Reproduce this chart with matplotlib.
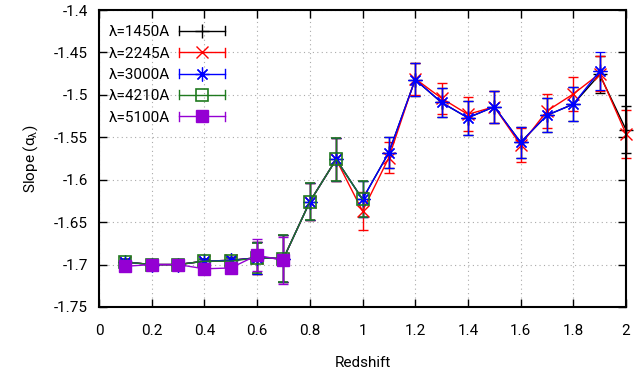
import numpy as np
import matplotlib
matplotlib.use("Agg")
import matplotlib.pyplot as plt
from matplotlib.lines import Line2D
from matplotlib.legend_handler import HandlerBase

plt.rcParams['font.family'] = ['Roboto', 'DejaVu Sans']
plt.rcParams['mathtext.default'] = 'regular'

redshift = [0.1, 0.2, 0.3, 0.4, 0.5, 0.6, 0.7, 0.8, 0.9, 1.0,
            1.1, 1.2, 1.3, 1.4, 1.5, 1.6, 1.7, 1.8, 1.9, 2.0]

labels = ["λ=1450A", "λ=2245A", "λ=3000A", "λ=4210A", "λ=5100A"]

slope_1450 = [-1.697, -1.700, -1.700, -1.696, -1.695, -1.692, -1.693, -1.626, -1.576, -1.623,
              -1.568, -1.482, -1.509, -1.527, -1.514, -1.556, -1.524, -1.511, -1.476, -1.541]
err_1450 = [0.004, 0.003, 0.003, 0.003, 0.004, 0.019, 0.028, 0.022, 0.025, 0.021,
            0.018, 0.019, 0.017, 0.020, 0.019, 0.018, 0.020, 0.020, 0.022, 0.028]

slope_2245 = [-1.697, -1.700, -1.700, -1.696, -1.695, -1.692, -1.693, -1.626, -1.576, -1.637,
              -1.574, -1.481, -1.504, -1.523, -1.514, -1.559, -1.519, -1.499, -1.475, -1.546]
err_2245 = [0.004, 0.003, 0.003, 0.003, 0.004, 0.019, 0.028, 0.022, 0.025, 0.022,
            0.018, 0.019, 0.018, 0.020, 0.019, 0.020, 0.020, 0.020, 0.021, 0.028]

slope_3000 = [-1.697, -1.700, -1.700, -1.696, -1.695, -1.692, -1.693, -1.626, -1.576, -1.623,
              -1.568, -1.482, -1.509, -1.527, -1.514, -1.556, -1.524, -1.511, -1.472]
err_3000 = [0.004, 0.003, 0.003, 0.003, 0.004, 0.019, 0.028, 0.022, 0.025, 0.021,
            0.018, 0.019, 0.017, 0.020, 0.019, 0.018, 0.020, 0.020, 0.022]

slope_4210 = [-1.697, -1.700, -1.700, -1.696, -1.696, -1.692, -1.693, -1.626, -1.576, -1.623]
err_4210 = [0.004, 0.003, 0.003, 0.003, 0.004, 0.018, 0.028, 0.022, 0.025, 0.021]

slope_5100 = [-1.702, -1.700, -1.700, -1.705, -1.704, -1.689, -1.695]
err_5100 = [0.003, 0.003, 0.003, 0.003, 0.003, 0.019, 0.028]

series = [
    (slope_1450, err_1450, 'black', '+', 10, 'black', 1.0),
    (slope_2245, err_2245, '#ff0000', 'x', 9, '#ff0000', 1.0),
    (slope_3000, err_3000, '#0000ff', (8, 2, 0), 10, '#0000ff', 0.9),
    (slope_4210, err_4210, '#1f7a1f', 's', 8, 'none', 1.2),
    (slope_5100, err_5100, '#9400d3', 's', 9, '#9400d3', 1.0),
]


class HandlerHErr(HandlerBase):
    def create_artists(self, legend, orig_handle, xdescent, ydescent,
                       width, height, fontsize, trans):
        col = orig_handle.get_color()
        y = height / 2.0 - ydescent
        x0 = -xdescent
        x1 = width - xdescent
        c = 0.3 * fontsize
        artists = [
            Line2D([x0, x1], [y, y], color=col, lw=1.0),
            Line2D([x0, x0], [y - c, y + c], color=col, lw=1.0),
            Line2D([x1, x1], [y - c, y + c], color=col, lw=1.0),
            Line2D([(x0 + x1) / 2.0], [y], marker=orig_handle.get_marker(),
                   markersize=orig_handle.get_markersize(),
                   markerfacecolor=orig_handle.get_markerfacecolor(),
                   markeredgecolor=orig_handle.get_markeredgecolor(),
                   markeredgewidth=orig_handle.get_markeredgewidth(),
                   linestyle='none'),
        ]
        for a in artists:
            a.set_transform(trans)
        return artists


fig = plt.figure(figsize=(6.44, 3.78), dpi=100)
ax = fig.add_axes([99 / 644, 1 - 307 / 378, 527 / 644, 297 / 378])

handles = []
for (vals, errs, col, mk, ms, mfc, mew), lab in zip(series, labels):
    x = redshift[:len(vals)]
    cont = ax.errorbar(x, vals, yerr=errs, color=col, lw=1.0, elinewidth=1.0,
                       capsize=3.5, capthick=1.0, marker=mk, markersize=ms,
                       markerfacecolor=mfc, markeredgecolor=col,
                       markeredgewidth=mew, label=lab)
    for art in [cont[0], *cont[1], *cont[2]]:
        art.set_clip_on(False)
    handles.append(cont[0])

ax.set_xlim(0, 2)
ax.set_ylim(-1.75, -1.4)
xt = np.round(np.arange(0, 2.01, 0.2), 1)
ax.set_xticks(xt)
ax.set_xticklabels([('%g' % v) for v in xt])
yt = np.round(np.arange(-1.75, -1.399, 0.05), 2)
ax.set_yticks(yt)
ax.set_yticklabels([('%g' % v) for v in yt])
ax.tick_params(direction='in', top=True, right=True, length=6, width=1.0,
               labelsize=11, pad=8)
ax.tick_params(axis='x', pad=12)
for s in ax.spines.values():
    s.set_linewidth(1.5)
ax.grid(True, linestyle=(0, (1, 3)), color='#aaaaaa', lw=0.8)

ax.set_xlabel('Redshift', fontsize=11, labelpad=13)
ax.set_ylabel('Slope (α$_λ$)', fontsize=11, labelpad=10)

ax.legend(handles=handles, labels=labels, loc='upper left',
          bbox_to_anchor=(-0.005, 0.99), frameon=False, markerfirst=False,
          fontsize=11, handlelength=3.0, handletextpad=0.6, labelspacing=0.48,
          borderaxespad=0.4,
          handler_map={Line2D: HandlerHErr()})

fig.savefig('out.png', dpi=100)
